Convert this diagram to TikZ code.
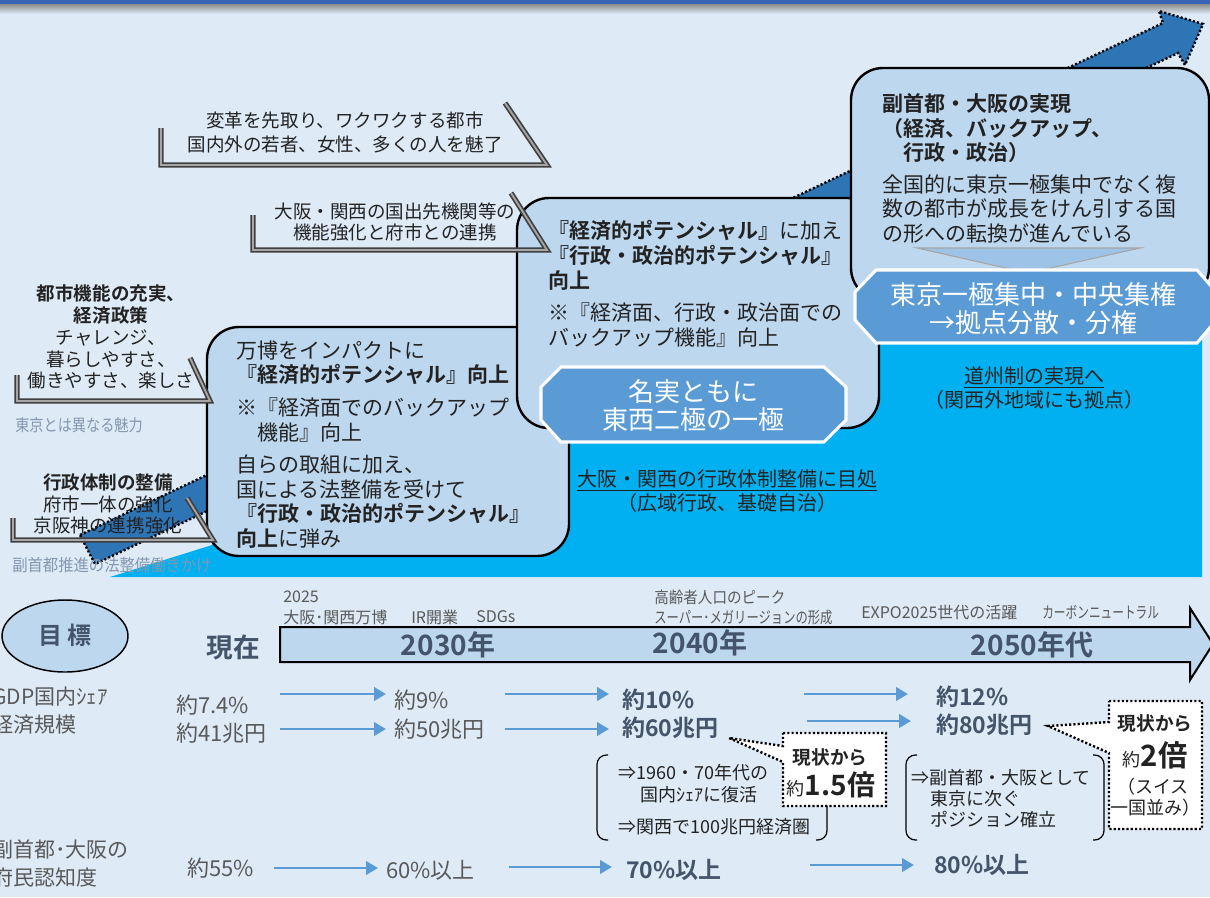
\documentclass[tikz,border=0pt]{standalone}
\usepackage{fontspec}
\usepackage{graphicx}
\setmainfont{Noto Sans CJK JP}[BoldFont={Noto Sans CJK JP Bold}]
\usetikzlibrary{arrows.meta}
\definecolor{bg}{HTML}{DEEAF6}
\definecolor{boxfill}{HTML}{BDD7EE}
\definecolor{octfill}{HTML}{5B9BD5}
\definecolor{cyanfill}{HTML}{00B0F0}
\definecolor{arrowblue}{HTML}{2E75B6}
\definecolor{slate}{HTML}{44546A}
\definecolor{graytxt}{HTML}{595959}
\definecolor{lgraytxt}{HTML}{8497B0}
\definecolor{topbar}{HTML}{3A64B5}
\definecolor{txtc}{HTML}{222222}
\definecolor{tri}{HTML}{9DC3E6}
\definecolor{brkdark}{HTML}{404040}
\definecolor{brklight}{HTML}{A6A6A6}
\newcommand{\fsz}[2]{\fontsize{#1pt}{#2pt}\selectfont}
\tikzset{
  boxst/.style={fill=boxfill, draw=black, line width=1.8pt, rounded corners=24pt},
  octst/.style={fill=octfill, draw=white, line width=2.3pt},
  dotst/.style={draw=black, line width=1.8pt, dash pattern=on 1.6pt off 1.6pt},
  brk/.style={draw=brkdark, line width=4pt, line join=miter, postaction={draw=brklight, line width=1.4pt}},
  paren/.style={draw=black, line width=0.9pt, rounded corners=7pt},
  valarrow/.style={draw=octfill, line width=2.2pt, -{Triangle[length=9pt,width=10pt]}},
  txt/.style={inner sep=0pt, text=txtc},
  btxt/.style={txt, font=\fsz{15.75}{18.4}, align=left, anchor=north west},
  ltxt/.style={txt, font=\fsz{13.9}{16.3}, align=center, anchor=north},
  small/.style={inner sep=0pt, text=graytxt, anchor=west, font=\fsz{12}{14}},
  val/.style={inner sep=0pt, text=graytxt, anchor=west, font=\fsz{16.5}{19}},
  bval/.style={inner sep=0pt, text=slate, anchor=west, font=\fsz{17.25}{19}\bfseries},
  year/.style={inner sep=0pt, text=slate, font=\fsz{21}{24}\bfseries},
  octtxt/.style={inner sep=0pt, text=white, align=center, font=\fsz{19.5}{21}},
  ptxt/.style={inner sep=0pt, text=txtc, anchor=west, font=\fsz{13.5}{16}},
}
\begin{document}
\begin{tikzpicture}[x=0.75pt,y=-0.75pt]
\useasboundingbox (0,0) rectangle (1210,897);
\fill[bg] (0,0) rectangle (1210,897);
% top bar
\shade[top color=black!45, bottom color=bg] (0,4) rectangle (1210,14);
\fill[topbar] (0,0) rectangle (1210,4);
% cyan staircase area
\fill[cyanfill] (110,577) -- (212,545) -- (212,400) -- (870,400) -- (870,290) -- (1202,290) -- (1202,577) -- cycle;
% big rising arrow
\filldraw[fill=arrowblue, dotst] (80,535) -- (1163,23) -- (1159,11) -- (1203,24) -- (1185,65) -- (1178,53) -- (95,564) -- cycle;
% boxes
\draw[boxst] (207,327) rectangle (569,556);
\draw[boxst] (517,198) rectangle (879,428);
\filldraw[octst] (561,367) -- (824,367) -- (846,387) -- (846,420) -- (824,442) -- (561,442) -- (541,420) -- (541,387) -- cycle;
\draw[boxst] (851,68) rectangle (1209,300);
\filldraw[fill=tri, draw=black!35, line width=0.8pt] (917,248) -- (1140,248) -- (1028,273) -- cycle;
\filldraw[octst] (876,270) -- (1197,270) -- (1218,294) -- (1218,318) -- (1197,343) -- (876,343) -- (855,320) -- (855,292) -- cycle;
% brackets
\draw[brk] (161,128) -- (161,165) -- (547,165) -- (505,103);
\draw[brk] (253,215) -- (253,250) -- (547,250) -- (511,193);
\draw[brk] (17,375) -- (17,401) -- (210,401) -- (190,358);
\draw[brk] (13,518) -- (13,540) -- (213,540) -- (187,498);

% texts in boxes
\node[btxt] (t1) at (236,340.5) {万博をインパクトに\\
{\bfseries 『経済的ポテンシャル』向上}\\[6pt]
※『経済面でのバックアップ\\
　機能』向上\\[6pt]
自らの取組に加え、\\
国による法整備を受けて\\
{\bfseries 『行政・政治的ポテンシャル』}\\
{\bfseries 向上}に弾み};
\node[btxt] (t2) at (548,220.5) {{\bfseries 『経済的ポテンシャル』}に加え\\
{\bfseries 『行政・政治的ポテンシャル』}\\
{\bfseries 向上}\\[6pt]
※『経済面、行政・政治面での\\
バックアップ機能』向上};
\node[btxt] (t3) at (882,93.5) {{\bfseries 副首都・大阪の実現}\\
{\bfseries （経済、バックアップ、}\\
{\bfseries 　行政・政治）}\\[5pt]
全国的に東京一極集中でなく複\\
数の都市が成長をけん引する国\\
の形への転換が進んでいる};
\node[octtxt] (o1t) at (693,406) {名実ともに\\東西二極の一極};
\node[octtxt] (o2t) at (1033,309) {東京一極集中・中央集権\\→拠点分散・分権};

% bracket texts
\node[ltxt, font=\fsz{13.9}{18}] (tb1) at (345,111.7) {変革を先取り、ワクワクする都市\\国内外の若者、女性、多くの人を魅了};
\node[ltxt, font=\fsz{13.9}{15.75}] (tb2) at (395,202.7) {大阪・関西の国出先機関等の\\機能強化と府市との連携};
\node[ltxt] (tl1) at (111,284.7) {{\bfseries 都市機能の充実、}\\{\bfseries 経済政策}\\チャレンジ、\\暮らしやすさ、\\働きやすさ、楽しさ};
\node[ltxt, font=\fsz{13.9}{16.1}] (tl2) at (108,473.7) {{\bfseries 行政体制の整備}\\府市一体の強化\\京阪神の連携強化};
\node[inner sep=0pt, text=lgraytxt, anchor=west, font=\fsz{12.5}{14}] (lg1) at (15,425) {\scalebox{0.85}[1]{東京とは異なる魅力}};
\node[inner sep=0pt, text=lgraytxt, anchor=west, font=\fsz{12.5}{14}] (lg2) at (12,565) {\scalebox{0.92}[1]{副首都推進の法整備働きかけ}};

% underlined notes
\node[txt, font=\fsz{15}{17}] (u1) at (727,480) {\underline{大阪・関西の行政体制整備に目処}};
\node[txt, font=\fsz{15}{17}] (u1b) at (727,503) {（広域行政、基礎自治）};
\node[txt, font=\fsz{15}{17}] (u2) at (1034,377) {\underline{道州制の実現へ}};
\node[txt, font=\fsz{15}{17}] (u2b) at (1034,400) {（関西外地域にも拠点）};

% goal ellipse & timeline
\draw[fill=boxfill, draw=black, line width=1.1pt] (65,636) ellipse [x radius=63, y radius=36];
\node[inner sep=0pt, text=slate, font=\fsz{18}{20}\bfseries] (goal) at (65,635) {目 標};
\node[inner sep=0pt, text=slate, font=\fsz{20}{22}\bfseries] (now) at (233,647) {現在};
\filldraw[fill=boxfill, draw=black, line width=1.5pt] (280,627) -- (1190,627) -- (1190,608) -- (1213,644) -- (1190,680) -- (1190,662) -- (280,662) -- cycle;
\node[year] (y2030) at (448,645) {2030年};
\node[year] (y2040) at (700,643) {2040年};
\node[year] (y2050) at (1032,645) {2050年代};

\node[small] (l2025) at (283,597) {2025};
\node[small] (lexpo) at (283,617) {大阪･関西万博};
\node[small] (lir) at (411,617) {IR開業};
\node[small] (lsdg) at (476,617) {SDGs};
\node[small] (lpeak) at (654,597) {\scalebox{0.91}[1]{高齢者人口のピーク}};
\node[small] (lmega) at (654,617) {\scalebox{0.77}[1]{スーパー･メガリージョンの形成}};
\node[small] (lexpo2) at (861,612) {EXPO2025世代の活躍};
\node[small] (lcarbon) at (1042,612) {\scalebox{0.73}[1]{カーボンニュートラル}};

% left labels
\node[val, font=\fsz{15.75}{18}] (lab1) at (-8,697) {GDP国内ｼｪｱ};
\node[val, font=\fsz{15.75}{18}] (lab2) at (-8,725) {経済規模};
\node[val, font=\fsz{15.75}{18}] (lab3) at (-8,849) {副首都･大阪の};
\node[val, font=\fsz{15.75}{18}] (lab4) at (-8,878) {府民認知度};

% values
\node[val] (v1a) at (176,705) {約7.4\%};
\node[val] (v1b) at (176,733) {約41兆円};
\node[val] (v2a) at (394,700) {約9\%};
\node[val] (v2b) at (394,729) {約50兆円};
\node[bval] (v3a) at (622,700) {約10\%};
\node[bval] (v3b) at (622,728) {約60兆円};
\node[bval] (v4a) at (936,697) {約12\%};
\node[bval] (v4b) at (936,725) {約80兆円};
\node[val] (w1) at (187,868) {約55\%};
\node[val] (w2) at (386,870) {60\%以上};
\node[bval] (w3) at (626,870) {70\%以上};
\node[bval] (w4) at (934,865) {80\%以上};

% value arrows
\coordinate (a1s) at (280,694); \coordinate (a1e) at (386,694);
\coordinate (a2s) at (505,694); \coordinate (a2e) at (609,694);
\coordinate (a3s) at (804,694); \coordinate (a3e) at (908,694);
\coordinate (b1s) at (280,729); \coordinate (b1e) at (386,729);
\coordinate (b2s) at (505,729); \coordinate (b2e) at (609,729);
\coordinate (b3s) at (807,721); \coordinate (b3e) at (911,721);
\coordinate (c1s) at (274,868); \coordinate (c1e) at (378,868);
\coordinate (c2s) at (509,867); \coordinate (c2e) at (612,867);
\coordinate (c3s) at (810,865); \coordinate (c3e) at (914,865);
\draw[valarrow] (a1s) -- (a1e);
\draw[valarrow] (a2s) -- (a2e);
\draw[valarrow] (a3s) -- (a3e);
\draw[valarrow] (b1s) -- (b1e);
\draw[valarrow] (b2s) -- (b2e);
\draw[valarrow] (b3s) -- (b3e);
\draw[valarrow] (c1s) -- (c1e);
\draw[valarrow] (c2s) -- (c2e);
\draw[valarrow] (c3s) -- (c3e);

% parentheses
\draw[paren] (608,755) -- (597,755) -- (597,840) -- (608,840);
\draw[paren] (816,755) -- (827,755) -- (827,840) -- (816,840);
\draw[paren] (917,755) -- (906,755) -- (906,840) -- (917,840);
\draw[paren] (1093,755) -- (1104,755) -- (1104,840) -- (1093,840);
\node[ptxt] (p1a) at (618,773) {⇒1960・70年代の};
\node[ptxt] (p1b) at (640,795) {国内ｼｪｱに復活};
\node[ptxt] (p1c) at (618,827) {⇒関西で100兆円経済圏};
\node[ptxt] (p2a) at (911,778) {⇒副首都・大阪として};
\node[ptxt] (p2b) at (930,799) {東京に次ぐ};
\node[ptxt] (p2c) at (930,820) {ポジション確立};

% callouts
\filldraw[fill=white, dotst] (783,733) -- (886,733) -- (886,806) -- (783,806) -- (783,762) -- (729,738) -- (783,746) -- cycle;
\node[txt, font=\fsz{14}{16}\bfseries] (c1a) at (830,757) {現状から};
\node[txt] (c1b) at (831,785) {{\fsz{13.5}{16}約}{\fsz{21}{24}\bfseries 1.5倍}};
\filldraw[fill=white, dotst] (1109,701) -- (1202,701) -- (1202,829) -- (1109,829) -- (1109,753) -- (1048,726) -- (1109,722) -- cycle;
\node[txt, font=\fsz{14}{16}\bfseries] (c2a) at (1155,723) {現状から};
\node[txt] (c2b) at (1155,755) {{\fsz{13.5}{16}約}{\fsz{22}{24}\bfseries 2倍}};
\node[txt, font=\fsz{13.5}{16}] (c2c) at (1153,787) {（スイス};
\node[txt, font=\fsz{13.5}{16}] (c2d) at (1155,808) {一国並み）};
\end{tikzpicture}
\end{document}
